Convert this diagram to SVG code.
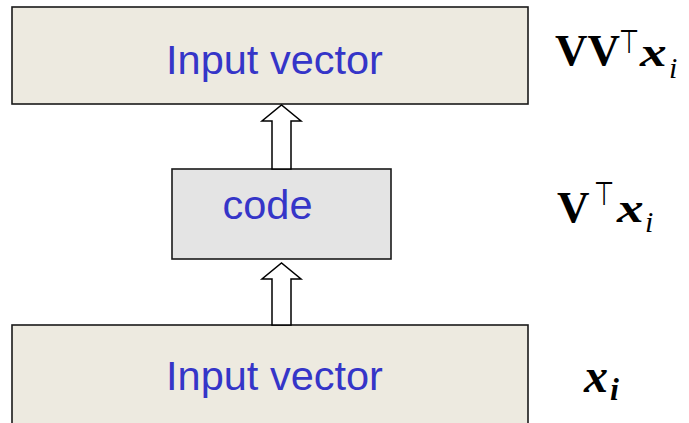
<svg xmlns="http://www.w3.org/2000/svg" width="689" height="423" viewBox="0 0 689 423">
<style>
.box{stroke:#1a1a1a;stroke-width:1.6}
.in{fill:#EDEAE0}
.code{fill:#E4E4E4}
.lbl{font-family:"Liberation Sans",Arial,sans-serif;font-size:41.5px;fill:#3535C8;text-anchor:middle}
.m{font-family:"Liberation Serif","Times New Roman",serif;fill:#000}
.V{font-size:45px;font-weight:bold}
.T{font-family:"DejaVu Sans",sans-serif;font-size:33px}
.x{font-size:41px;font-weight:bold;font-style:italic}
.i{font-size:30px;font-style:italic}
.arrow{fill:#fff;stroke:#000;stroke-width:1.5;stroke-linejoin:miter}
</style>
<rect width="689" height="423" fill="#fff"/>
<g id="input-top">
<rect class="box in" x="12" y="7" width="516" height="97"/>
<text class="lbl" x="274.5" y="74">Input vector</text>
</g>
<g id="code">
<rect class="box code" x="172" y="169" width="219" height="90"/>
<text class="lbl" x="267.5" y="219">code</text>
</g>
<g id="input-bottom">
<rect class="box in" x="12" y="325" width="516" height="110"/>
<text class="lbl" x="274.5" y="390">Input vector</text>
</g>
<g id="connectors">
<path class="arrow" d="M272,169 V121 H262 L281.5,105 L301,121 H291 V169 Z"/>
<path class="arrow" d="M272,325 V279 H262 L281.5,263 L301,279 H291 V325 Z"/>
</g>
<g id="labels">
<g id="label-top">
<text class="m V" x="555" y="65">VV</text>
<text class="m T" transform="translate(619,53) scale(0.7,1)">⊤</text>
<text class="m x" transform="translate(640,66) scale(1.3,1)">x</text>
<text class="m i" x="669" y="78">i</text>
</g>
<g id="label-mid">
<text class="m V" x="557" y="222">V</text>
<text class="m T" transform="translate(594,205) scale(0.7,1)">⊤</text>
<text class="m x" transform="translate(617,222) scale(1.3,1)">x</text>
<text class="m i" x="645" y="232">i</text>
</g>
<g id="label-bottom">
<text class="m x" style="font-size:48px" x="584" y="392">x</text>
<text class="m x" style="font-size:32px" x="610" y="400">i</text>
</g>
</g>
</svg>
